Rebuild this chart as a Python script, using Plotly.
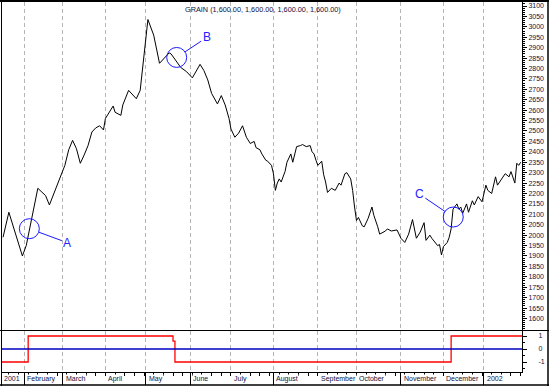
import numpy as np
import plotly.graph_objects as go

# ---------------- data ----------------
# trading-day offset (weekdays from 2001-02-01) and GRAIN price
day = [-11, -8, -1, 1, 7, 11, 13, 18, 21, 23, 25, 27, 29, 31, 33, 35, 37, 39, 41, 42,
       44, 46, 47, 50, 51, 54, 58, 60, 62, 64, 67, 70, 75, 76, 81, 84, 87, 89, 91, 93,
       95, 97, 100, 102, 104, 106, 107, 109, 111, 113, 115, 117, 119, 120, 122, 123, 125, 126, 128, 129,
       130, 131, 132, 133, 135, 136, 138, 139, 141, 143, 144, 146, 148, 149, 150, 151, 152, 154, 155, 156,
       157, 159, 161, 163, 164, 166, 167, 169, 170, 171, 172, 173, 175, 176, 178, 180, 181, 183, 184, 187,
       188, 190, 193, 195, 197, 199, 201, 203, 205, 207, 208, 210, 211, 214, 215, 216, 217, 219, 220, 221,
       222, 224, 225, 226, 227, 229, 230, 232, 233, 235, 237, 239, 240, 242, 244, 245, 247, 249, 251, 252,
       254, 255, 256, 257]
price = [1990, 2110, 1900, 1950, 2225, 2190, 2145, 2265, 2335, 2410, 2455, 2415, 2345, 2385, 2430, 2495, 2515, 2525, 2505, 2560,
         2590, 2620, 2590, 2575, 2625, 2695, 2655, 2695, 2865, 3035, 2960, 2825, 2875, 2870, 2805, 2785, 2755, 2785, 2820, 2790,
         2745, 2680, 2630, 2670, 2625, 2560, 2510, 2470, 2490, 2525, 2470, 2440, 2450, 2420, 2410, 2390, 2360, 2355, 2335, 2295,
         2215, 2250, 2270, 2255, 2305, 2350, 2390, 2350, 2425, 2430, 2435, 2425, 2430, 2400, 2390, 2360, 2335, 2355, 2290, 2255,
         2205, 2225, 2215, 2250, 2240, 2295, 2300, 2270, 2215, 2135, 2070, 2085, 2045, 2040, 2080, 2135, 2095, 2040, 2005, 2020,
         2030, 2020, 2025, 1985, 1965, 2005, 2075, 1985, 2015, 2060, 1975, 2000, 1985, 1950, 1955, 1905, 1945, 1965, 1990, 2030,
         2125, 2150, 2125, 2135, 2105, 2150, 2110, 2165, 2145, 2185, 2160, 2240, 2215, 2200, 2280, 2240, 2265, 2295, 2280, 2305,
         2250, 2345, 2335, 2350]

# lower-panel signal (step line)
signal_day = [-12, 2, 77, 78, 221, 258]
signal_val = [-1, 1, 0.6, -1, 1, 1]

base_date = "2001-02-01"
month_starts = ["2001-02-01", "2001-03-01", "2001-04-01", "2001-05-01", "2001-06-01", "2001-07-01",
                "2001-08-01", "2001-09-01", "2001-10-01", "2001-11-01", "2001-12-01", "2002-01-01"]
month_labels = ["February", "March", "April", "May", "June", "July",
                "August", "September", "October", "November", "December", "2002"]
first_label = "2001"
title_text = "GRAIN (1,600.00, 1,600.00, 1,600.00, 1,600.00)"
price_ticks = list(range(1600, 3101, 50))
signal_ticks = [-1, 0, 1]
signal_tick_text = ["-1", "0", "1"]
marks = ["A", "B", "C"]
mark_day = [2.6, 78.9, 222.1]
mark_price = [2031, 2853, 2087]

# ---------------- derived positions ----------------
month_idx = np.busday_count(base_date, month_starts).tolist()
all_days = np.arange(np.datetime64("2001-01-15"), np.datetime64("2002-01-31"))
mondays = [d for d in all_days if (d.astype("datetime64[D]").view("int64") - 4) % 7 == 0]
monday_idx = np.busday_count(np.datetime64(base_date), np.array(mondays)).tolist()

X0, X1 = -11.55, 257.7
W, H = 549, 386
ml, mr, mt, mb = 2, 27, 2, 14
pw, ph = W - ml - mr, H - mt - mb
d = (372 - 330.5) / ph

def px(p):
    return (p - ml) / pw

def py(p):
    return (H - mb - p) / ph

ink = "#101040"
font = "Liberation Sans, Arial, sans-serif"

fig = go.Figure()
fig.add_trace(go.Scatter(x=day, y=price, mode="lines", line=dict(color="black", width=1),
                         xaxis="x", yaxis="y", hoverinfo="skip", showlegend=False))
fig.add_trace(go.Scatter(x=signal_day, y=signal_val, mode="lines", line=dict(color="#ff0000", width=1.3, shape="hv"),
                         xaxis="x", yaxis="y2", hoverinfo="skip", showlegend=False))

shapes = [
    dict(type="line", xref="x domain", x0=0, x1=1, yref="y2", y0=0, y1=0,
         line=dict(color="#0000c0", width=1.3)),
    # panel separator
    dict(type="line", xref="paper", x0=px(0), x1=px(549), yref="paper", y0=d, y1=d,
         line=dict(color="black", width=1.2)),
    # frame
    dict(type="line", xref="paper", x0=px(0), x1=px(549), yref="paper", y0=py(1), y1=py(1),
         line=dict(color="black", width=2)),
    dict(type="line", xref="paper", x0=px(1.5), x1=px(1.5), yref="paper", y0=py(0), y1=py(386),
         line=dict(color="black", width=1)),
    dict(type="line", xref="paper", x0=px(548), x1=px(548), yref="paper", y0=py(0), y1=py(386),
         line=dict(color="black", width=1.5)),
    dict(type="line", xref="paper", x0=px(0), x1=px(549), yref="paper", y0=py(385), y1=py(385),
         line=dict(color="black", width=1.5)),
]
for dd, pp in zip(mark_day, mark_price):
    shapes.append(dict(type="circle", xref="x", yref="y", xsizemode="pixel", ysizemode="pixel",
                       xanchor=dd, yanchor=pp, x0=-10, x1=10, y0=-10, y1=10,
                       line=dict(color="#1a1aff", width=1)))

annotations = [dict(text=title_text, xref="paper", yref="paper", x=px(183), y=py(3),
                    xanchor="left", yanchor="top", showarrow=False,
                    font=dict(family=font, size=7.3, color=ink))]
offsets = [(38, 14), (30, -20), (-34, -23)]
for t, dd, pp, (ax, ay) in zip(marks, mark_day, mark_price, offsets):
    annotations.append(dict(text=t, x=dd, y=pp, xref="x", yref="y", showarrow=True, arrowhead=0,
                            arrowwidth=1, arrowcolor="#1a1aff", ax=ax, ay=ay, standoff=10,
                            font=dict(family=font, size=12, color="#2222ff")))
annotations.append(dict(text=first_label, x=X0, xref="x", y=0, yref="paper", xanchor="left", yanchor="top",
                        xshift=1, yshift=-2, showarrow=False, borderpad=0, bgcolor="white",
                        font=dict(family=font, size=7, color=ink)))
for t, mi in zip(month_labels, month_idx):
    annotations.append(dict(text=t, x=mi, xref="x", y=0, yref="paper", xanchor="left", yanchor="top",
                            xshift=2, yshift=-2, showarrow=False, borderpad=0, bgcolor="white",
                            font=dict(family=font, size=7, color=ink)))

fig.update_layout(
    width=W, height=H, margin=dict(l=ml, r=mr, t=mt, b=mb, autoexpand=False),
    paper_bgcolor="white", plot_bgcolor="white", showlegend=False,
    xaxis=dict(range=[X0, X1], anchor="y2", automargin=False, tickmode="array", tickvals=month_idx,
               ticktext=[""] * len(month_idx),
               ticks="outside", ticklen=12, tickcolor="black", tickwidth=1,
               showgrid=True, gridcolor="#b4b4b4", griddash="4px,3px", gridwidth=1,
               showline=True, linecolor="black", linewidth=1, zeroline=False,
               minor=dict(tickmode="array", tickvals=monday_idx, ticks="outside", ticklen=3,
                          tickcolor="black", showgrid=False)),
    yaxis=dict(domain=[d, 1], range=[1542.3, 3119.2], side="right", anchor="x", automargin=False,
               tickmode="array", tickvals=price_ticks, ticks="outside", ticklen=4, tickcolor="black",
               showgrid=False, zeroline=False, showline=True, linecolor="black", linewidth=1,
               tickfont=dict(family=font, size=7, color=ink),
               minor=dict(dtick=10, ticks="outside", ticklen=2, tickcolor="black", showgrid=False)),
    yaxis2=dict(domain=[0, d], range=[-1.769, 1.423], side="right", anchor="x", automargin=False,
                tickmode="array", tickvals=signal_ticks, ticktext=signal_tick_text,
                ticks="outside", ticklen=4, tickcolor="black",
                showgrid=False, zeroline=False, showline=True, linecolor="black", linewidth=1,
                tickfont=dict(family=font, size=7, color=ink), ticklabelstandoff=10,
                minor=dict(dtick=0.5, ticks="outside", ticklen=2, tickcolor="black", showgrid=False)),
    shapes=shapes, annotations=annotations,
)

fig.write_html("out.html", config={"displayModeBar": False},
               post_script="document.body.style.margin='0';document.body.style.overflow='hidden';")
